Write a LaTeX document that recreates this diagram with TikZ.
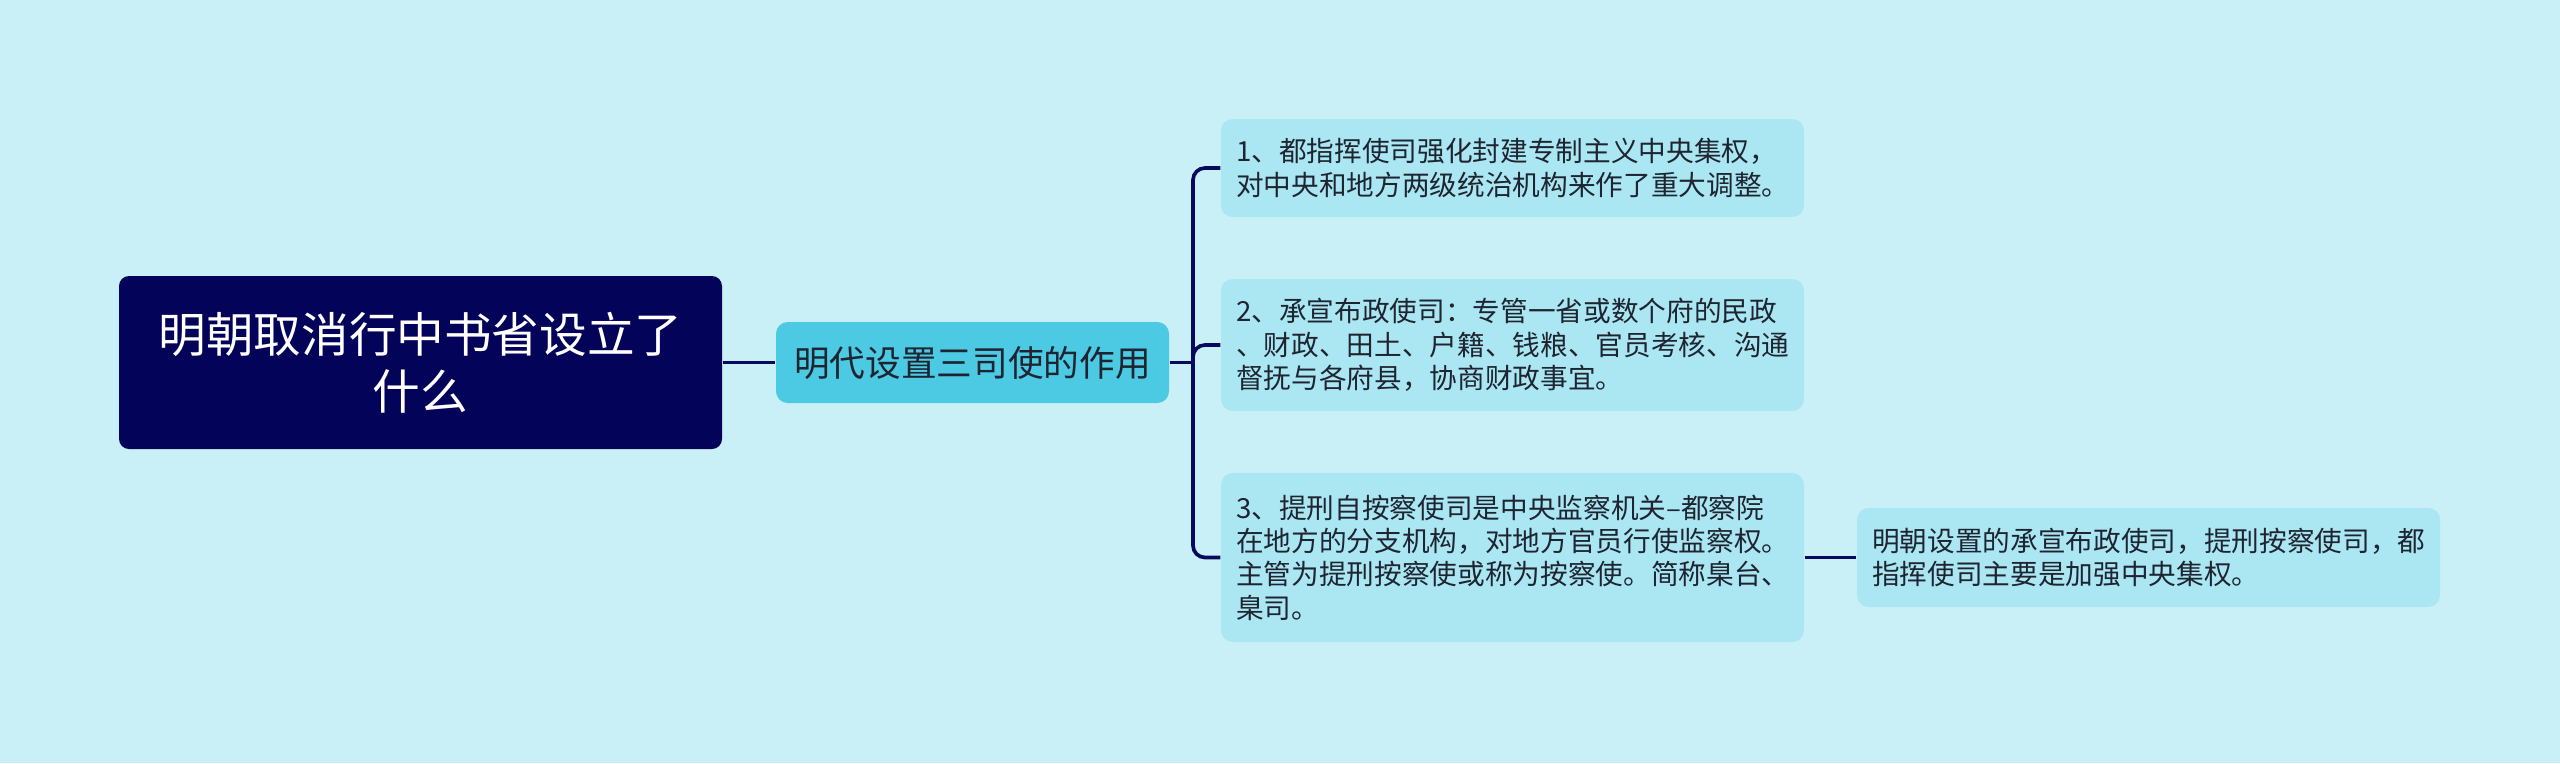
\documentclass[tikz,border=0pt]{standalone}
\usepackage{fontspec}
\setmainfont{Noto Sans CJK SC}
\usetikzlibrary{positioning}
\definecolor{bgcol}{HTML}{C9F0F7}
\definecolor{rootcol}{HTML}{04035A}
\definecolor{midcol}{HTML}{4CC9E3}
\definecolor{leafcol}{HTML}{ABE6F3}
\definecolor{linkcol}{HTML}{08085C}
\definecolor{txtcol}{HTML}{1E2530}
\tikzset{
	rootbox/.style={fill=rootcol, text=white, rounded corners=3pt, align=center,
		minimum width=180.9pt, minimum height=51.9pt, inner sep=0pt,
		font=\fontsize{14.3pt}{17.1pt}\selectfont},
	midbox/.style={fill=midcol, text=txtcol, rounded corners=3.5pt,
		minimum width=117.9pt, minimum height=24.3pt, inner sep=0pt,
		font=\fontsize{10.7pt}{12.8pt}\selectfont},
	leafbox/.style={fill=leafcol, text=txtcol, rounded corners=3.5pt, align=left,
		text width=165.9pt, inner xsep=4.5pt, inner ysep=0pt,
		font=\fontsize{8.3pt}{10pt}\selectfont},
	link/.style={draw=linkcol, line width=1.1pt, rounded corners=3.6pt}
}
\begin{document}
\begin{tikzpicture}[x=0.3pt, y=-0.3pt]
	%background
	\fill[bgcol] (0,0) rectangle (2560,763);
	\useasboundingbox (0,0) rectangle (2560,763);

	%nodes
	\node[rootbox] (root) at (420.5,362.5) {明朝取消行中书省设立了\\什么};
	\node[midbox] (mid) at (972.5,362.5) {明代设置三司使的作用};

	\node[leafbox, minimum height=29.4pt] (one) at (1512.5,168)
		{1、都指挥使司强化封建专制主义中央集权，\\对中央和地方两级统治机构来作了重大调整。};
	\node[leafbox, minimum height=39.6pt] (two) at (1512.5,345)
		{2、承宣布政使司：专管一省或数个府的民政\\、财政、田土、户籍、钱粮、官员考核、沟通\\督抚与各府县，协商财政事宜。};
	\node[leafbox, minimum height=50.7pt] (three) at (1512.5,557.5)
		{3、提刑自按察使司是中央监察机关–都察院\\在地方的分支机构，对地方官员行使监察权。\\主管为提刑按察使或称为按察使。简称臬台、\\臬司。};
	\node[leafbox, minimum height=29.7pt] (four) at (2148.5,557.5)
		{明朝设置的承宣布政使司，提刑按察使司，都\\指挥使司主要是加强中央集权。};

	%links
	\coordinate (fork) at (1193,362.5);
	\draw[link] (root.east) -- (mid.west);
	\draw[link] (mid.east) -- (fork);
	\draw[link] (fork) |- (one.west);
	\draw[link] (fork) |- (two.west);
	\draw[link] (fork) |- (three.west);
	\draw[link] (three.east) -- (four.west);
\end{tikzpicture}
\end{document}
